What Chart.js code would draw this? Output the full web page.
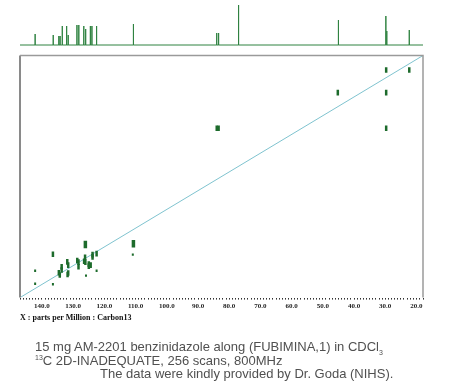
<!DOCTYPE html>
<html>
<head>
<meta charset="utf-8">
<script src="https://cdn.jsdelivr.net/npm/chart.js@4/dist/chart.umd.min.js"></script>
<style>
  body { margin: 0; background: #fff; width: 454px; height: 386px; overflow: hidden; }
  #top { position: absolute; left: 0; top: 0; width: 454px; height: 48px; }
  #main { position: absolute; left: 0; top: 48px; width: 454px; height: 282px; }
  #xtitle { position: absolute; left: 20px; top: 313px; font-family: "Liberation Serif", serif;
    font-weight: bold; font-size: 8px; color: #111; white-space: nowrap; }
  #caption { position: absolute; left: 35px; top: 340px; font-family: "Liberation Sans", Arial, sans-serif;
    font-size: 13px; line-height: 13.5px; color: #505050; white-space: nowrap; }
  #caption sub, #caption sup { font-size: 7px; line-height: 0; }
  #caption .l3 { padding-left: 65px; }
</style>
</head>
<body>
<div id="top"><canvas id="spec"></canvas></div>
<div id="main"><canvas id="inadequate"></canvas></div>
<div id="xtitle">X : parts per Million : Carbon13</div>
<div id="caption">
  <div>15 mg AM-2201 benzinidazole along (FUBIMINA,1) in CDCl<sub>3</sub></div>
  <div><sup>13</sup>C 2D-INADEQUATE, 256 scans, 800MHz</div>
  <div class="l3">The data were kindly provided by Dr. Goda (NIHS).</div>
</div>
<script>
// axis range (ppm)
const xMin = 17.9;
const xMax = 147.05;

// 1D carbon spectrum on top
const specPpm = [142.2, 136.4, 134.6, 134.2, 133.5, 132.1, 131.6, 128.8, 128.2, 126.6, 126.0,
  124.5, 124.0, 122.5, 110.7, 84.0, 83.4, 77.0, 45.0, 29.8, 29.5, 22.3];
const specInt = [11, 10, 9, 9, 19, 19, 10, 20, 20, 19, 16,
  19, 19, 19, 21, 12, 12, 40, 25, 29, 14, 15];

// 2D cross peaks : x = carbon shift, y = double quantum freq.
const crossX = [142.2, 142.2, 136.5, 136.5, 126.1, 110.7, 110.9, 134.6, 133.7, 131.9, 131.6,
  131.6, 128.7, 128.3, 126.2, 126.1, 125.9, 125.0, 124.4, 123.8, 122.5, 122.5,
  133.7, 128.3, 126.5, 125.0, 123.8, 134.3, 131.8,
  84.0, 83.4, 29.7, 45.2, 29.7, 29.7, 22.3];
const crossY = [265.5, 279.4, 247.9, 279.8, 237.4, 236.6, 248.2, 267.6, 261.2, 256.0, 259.5,
  267.9, 254.5, 261.2, 251.0, 256.3, 270.7, 258.4, 259.5, 248.2, 247.2, 265.5,
  264.7, 256.3, 255.3, 260.5, 250.6, 270.0, 269.5,
  113.4, 113.4, 113.4, 75.4, 75.4, 51.3, 51.3];
const crossInt = [1, 1, 2, 1, 3, 3, 1, 2, 2, 2, 2,
  2, 2, 2, 2, 2, 1, 2, 2, 2, 2, 1,
  2, 2, 2, 2, 2, 2, 2,
  2, 2, 2, 2, 2, 2, 2];

// spectrum trace: baseline with sticks
let trace = [{ x: xMax, y: 0 }];
specPpm.forEach((p, i) => {
  trace.push({ x: p, y: 0 }, { x: p, y: specInt[i] }, { x: p, y: 0 });
});
trace.push({ x: xMin, y: 0 });

new Chart(document.getElementById("spec"), {
  type: "scatter",
  data: {
    datasets: [{
      data: trace,
      showLine: true,
      borderColor: "#2f8240",
      borderWidth: 1,
      pointRadius: 0,
      clip: false,
    }],
  },
  options: {
    animation: false,
    responsive: true,
    maintainAspectRatio: false,
    layout: { padding: { left: 20, right: 31, top: 4, bottom: 3 } },
    plugins: { legend: { display: false }, tooltip: { enabled: false } },
    scales: {
      x: { type: "linear", reverse: true, min: xMin, max: xMax, display: false },
      y: { min: 0, max: 41, display: false },
    },
  },
});

const crossPts = crossX.map((x, i) => ({ x: x, y: crossY[i] }));

// box outline around the plot
const boxPlugin = {
  id: "box",
  afterDatasetsDraw(chart) {
    const a = chart.chartArea;
    const ctx = chart.ctx;
    ctx.save();
    ctx.strokeStyle = "#8a8a8a";
    ctx.lineWidth = 2;
    ctx.beginPath();
    ctx.moveTo(a.left, a.bottom);
    ctx.lineTo(a.left, a.top);
    ctx.stroke();
    ctx.lineWidth = 1.5;
    ctx.strokeStyle = "#9a9a9a";
    ctx.beginPath();
    ctx.moveTo(a.left, a.top);
    ctx.lineTo(a.right, a.top);
    ctx.lineTo(a.right, a.bottom);
    ctx.stroke();
    ctx.restore();
  },
};

new Chart(document.getElementById("inadequate"), {
  type: "scatter",
  data: {
    datasets: [
      {
        data: crossPts,
        pointStyle: "line",
        rotation: 90,
        pointRadius: (c) => [0, 1.2, 2.8, 3.8][crossInt[c.dataIndex]],
        pointBorderWidth: (c) => [0, 2, 2.5, 3.5][crossInt[c.dataIndex]],
        pointBorderColor: "#1d6b2c",
        pointBackgroundColor: "#1d6b2c",
      },
      {
        data: [{ x: xMax, y: 2 * xMax }, { x: xMin, y: 2 * xMin }],
        showLine: true,
        borderColor: "#7fc3cf",
        borderWidth: 1,
        pointRadius: 0,
      },
    ],
  },
  options: {
    animation: false,
    responsive: true,
    maintainAspectRatio: false,
    layout: { padding: { left: 20, right: 31, top: 4, bottom: 18 } },
    plugins: { legend: { display: false }, tooltip: { enabled: false } },
    scales: {
      x: {
        type: "linear",
        reverse: true,
        min: xMin,
        max: xMax,
        border: { display: false },
        grid: { drawOnChartArea: false, tickLength: 2, color: "#333" },
        ticks: {
          stepSize: 1,
          autoSkip: false,
          maxRotation: 0,
          padding: 2,
          color: "#222",
          font: { family: "Liberation Serif", size: 7, weight: "bold" },
          callback: (v) => (Math.abs(v - Math.round(v)) < 1e-6 && Math.round(v) % 10 === 0 ? v.toFixed(1) : ""),
        },
      },
      y: { type: "linear", reverse: true, min: 2 * xMin, max: 2 * xMax, display: false },
    },
  },
  plugins: [boxPlugin],
});
</script>
</body>
</html>
